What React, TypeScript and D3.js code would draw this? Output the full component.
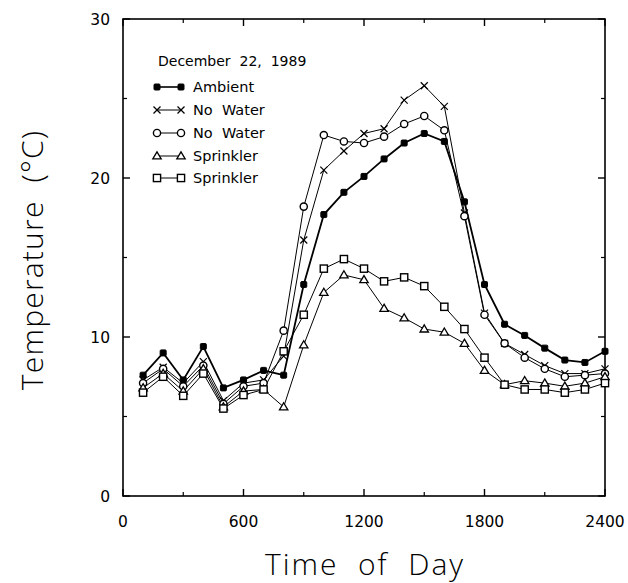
import React from "react";
import * as d3 from "d3";

const hours = [100, 200, 300, 400, 500, 600, 700, 800, 900, 1000, 1100, 1200, 1300, 1400, 1500, 1600, 1700, 1800, 1900, 2000, 2100, 2200, 2300, 2400];
const ambient = [7.6, 9.0, 7.3, 9.4, 6.8, 7.3, 7.9, 7.6, 13.3, 17.7, 19.1, 20.1, 21.2, 22.2, 22.8, 22.3, 18.5, 13.3, 10.8, 10.1, 9.3, 8.55, 8.4, 9.1];
const noWaterX = [7.3, 8.1, 7.1, 8.45, 6.0, 7.1, 7.3, 8.8, 16.1, 20.5, 21.7, 22.8, 23.1, 24.9, 25.8, 24.5, 17.8, 11.5, 9.6, 8.9, 8.2, 7.7, 7.7, 8.0];
const noWaterO = [7.1, 8.0, 6.9, 8.2, 5.8, 6.9, 7.1, 10.4, 18.2, 22.7, 22.3, 22.2, 22.6, 23.4, 23.9, 23.0, 17.6, 11.4, 9.6, 8.7, 8.0, 7.5, 7.6, 7.7];
const sprinklerTri = [6.8, 7.7, 6.6, 8.0, 5.6, 6.6, 6.7, 5.6, 9.5, 12.8, 13.9, 13.6, 11.8, 11.2, 10.5, 10.3, 9.6, 7.9, 7.0, 7.25, 7.1, 6.9, 7.1, 7.5];
const sprinklerSq = [6.5, 7.5, 6.3, 7.7, 5.5, 6.35, 6.7, 9.1, 11.4, 14.3, 14.9, 14.3, 13.5, 13.75, 13.2, 11.9, 10.5, 8.7, 7.0, 6.7, 6.7, 6.5, 6.7, 7.1];

const seriesNames = ["Ambient", "No  Water", "No  Water", "Sprinkler", "Sprinkler"];
const seriesSymbols = ["filled", "x", "circle", "triangle", "square"];
const seriesValues = [ambient, noWaterX, noWaterO, sprinklerTri, sprinklerSq];

const xTicks = [0, 600, 1200, 1800, 2400];
const xMinor = [300, 900, 1500, 2100];
const yTicks = [0, 10, 20, 30];
const yMinor = [5, 15, 25];

const W = 628;
const H = 583;
const left = 123, right = 605, top = 19, bottom = 496;

function Marker({ kind, x, y }: { kind: string; x: number; y: number }) {
  const s = 3.5;
  if (kind === "filled") {
    return <rect x={x - 3} y={y - 3} width={6} height={6} rx={1} fill="#000" stroke="#000" strokeWidth={1} />;
  }
  if (kind === "x") {
    return (
      <g stroke="#000" strokeWidth={1.2}>
        <line x1={x - s} y1={y - s} x2={x + s} y2={y + s} />
        <line x1={x - s} y1={y + s} x2={x + s} y2={y - s} />
      </g>
    );
  }
  if (kind === "circle") {
    return <circle cx={x} cy={y} r={3.6} fill="#fff" stroke="#000" strokeWidth={1.4} />;
  }
  if (kind === "triangle") {
    const h = 4.2;
    return <path d={`M${x},${y - h}L${x + h},${y + h * 0.7}L${x - h},${y + h * 0.7}Z`} fill="#fff" stroke="#000" strokeWidth={1.3} />;
  }
  return <rect x={x - 3.6} y={y - 3.6} width={7.2} height={7.2} fill="#fff" stroke="#000" strokeWidth={1.4} />;
}

export default function App() {
  const x = d3.scaleLinear().domain([0, 2400]).range([left, right]);
  const y = d3.scaleLinear().domain([0, 30]).range([bottom, top]);
  const line = d3
    .line<number>()
    .x((_, i) => x(hours[i]))
    .y((v) => y(v));

  const tickFont = "'DejaVu Sans', sans-serif";
  const titleFont = "'Open Sans', 'DejaVu Sans', sans-serif";
  const legendRows = [87, 110, 133, 156, 178];

  return (
    <svg width={W} height={H} style={{ display: "block", position: "absolute", left: 0, top: 0, background: "#fff" }}>
      <rect x={0} y={0} width={W} height={H} fill="#fff" />
      {/* frame */}
      <rect x={left} y={top} width={right - left} height={bottom - top} fill="none" stroke="#000" strokeWidth={1.6} />
      {/* ticks */}
      {xTicks.map((t) => (
        <g key={"xt" + t}>
          <line x1={x(t)} x2={x(t)} y1={bottom} y2={bottom - 7} stroke="#000" strokeWidth={1.4} />
          <line x1={x(t)} x2={x(t)} y1={top} y2={top + 7} stroke="#000" strokeWidth={1.4} />
          <text x={x(t)} y={bottom + 31} textAnchor="middle" fontFamily={tickFont} fontSize={15.5} fill="#000">
            {t}
          </text>
        </g>
      ))}
      {xMinor.map((t) => (
        <g key={"xm" + t}>
          <line x1={x(t)} x2={x(t)} y1={bottom} y2={bottom - 4} stroke="#000" strokeWidth={1.2} />
          <line x1={x(t)} x2={x(t)} y1={top} y2={top + 4} stroke="#000" strokeWidth={1.2} />
        </g>
      ))}
      {yTicks.map((t) => (
        <g key={"yt" + t}>
          <line x1={left} x2={left + 7} y1={y(t)} y2={y(t)} stroke="#000" strokeWidth={1.4} />
          <line x1={right} x2={right - 7} y1={y(t)} y2={y(t)} stroke="#000" strokeWidth={1.4} />
          <text x={left - 13} y={y(t) + 6} textAnchor="end" fontFamily={tickFont} fontSize={15.5} fill="#000">
            {t}
          </text>
        </g>
      ))}
      {yMinor.map((t) => (
        <g key={"ym" + t}>
          <line x1={left} x2={left + 4} y1={y(t)} y2={y(t)} stroke="#000" strokeWidth={1.2} />
          <line x1={right} x2={right - 4} y1={y(t)} y2={y(t)} stroke="#000" strokeWidth={1.2} />
        </g>
      ))}
      {/* series lines */}
      {seriesValues.map((vals, si) => (
        <path key={"l" + si} d={line(vals) || ""} fill="none" stroke="#000" strokeWidth={si === 0 ? 1.8 : 1} />
      ))}
      {/* markers */}
      {seriesValues.map((vals, si) => (
        <g key={"m" + si}>
          {vals.map((v, i) => (
            <Marker key={i} kind={seriesSymbols[si]} x={x(hours[i])} y={y(v)} />
          ))}
        </g>
      ))}
      {/* legend */}
      <text x={158} y={66} fontFamily={tickFont} fontSize={14} fill="#000" style={{ whiteSpace: "pre" }}>
        {"December  22,  1989"}
      </text>
      {seriesNames.map((name, i) => (
        <g key={"lg" + i}>
          <line x1={157} x2={181} y1={legendRows[i]} y2={legendRows[i]} stroke="#000" strokeWidth={i === 0 ? 1.6 : 1} />
          <Marker kind={seriesSymbols[i]} x={157} y={legendRows[i]} />
          <Marker kind={seriesSymbols[i]} x={181} y={legendRows[i]} />
          <text x={193} y={legendRows[i] + 5} fontFamily={tickFont} fontSize={14.5} fill="#000" style={{ whiteSpace: "pre" }}>
            {name}
          </text>
        </g>
      ))}
      {/* axis titles */}
      <text x={365} y={575} textAnchor="middle" fontFamily={titleFont} fontWeight={300} fontSize={30} letterSpacing={2} style={{ whiteSpace: "pre" }} fill="#000">
        {"Time  of  Day"}
      </text>
      <text transform={`translate(43,260) rotate(-90)`} textAnchor="middle" fontFamily={titleFont} fontWeight={300} fontSize={30} letterSpacing={1.2} style={{ whiteSpace: "pre" }} fill="#000">
        {"Temperature  (°C)"}
      </text>
    </svg>
  );
}
